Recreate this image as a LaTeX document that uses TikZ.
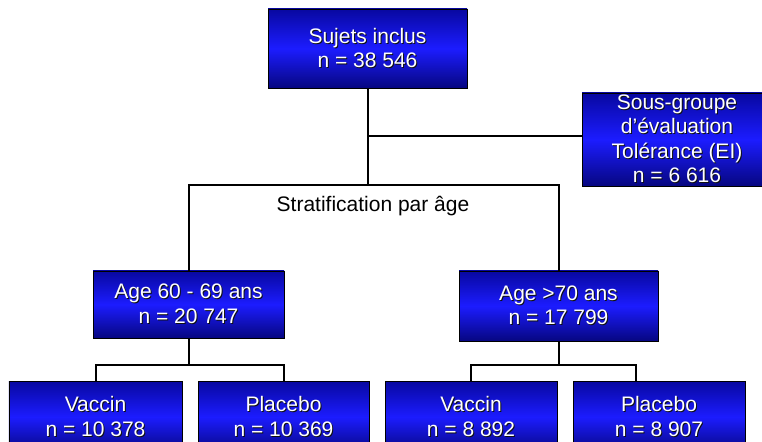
\documentclass[tikz,border=0pt]{standalone}
\usepackage{fontspec}
\setmainfont{Liberation Sans}
\usepackage{tikz}
\definecolor{bleufonce}{HTML}{0808A0}
\definecolor{bleuvif}{HTML}{1C1CFF}
\definecolor{ombre}{HTML}{101010}
\newcommand{\ombretxt}[1]{\rlap{\kern1bp\raisebox{-1bp}{\textcolor{ombre}{#1}}}#1}

\begin{document}
\begin{tikzpicture}[x=1bp,y=-1bp,
  every node/.style={font=\fontsize{21bp}{24.5bp}\selectfont},
  bloc/.style={draw=black,line width=0.8bp,rectangle,inner sep=0pt,align=center,
    text=white,top color=bleufonce,bottom color=bleufonce!80!black,middle color=bleuvif},
  lien/.style={line width=2bp,line join=miter}]
\useasboundingbox (0,0) rectangle (762,442);
\node[bloc,minimum width=199bp,minimum height=79bp] (incl) at (367.5,48.5) {\ombretxt{Sujets inclus}\\\ombretxt{n = 38 546}};
\node[bloc,minimum width=190bp,minimum height=93bp] (sousgr) at (677,139.5) {\ombretxt{Sous-groupe}\\\ombretxt{d’évaluation}\\\ombretxt{Tolérance (EI)}\\\ombretxt{n = 6 616}};
\node[bloc,minimum width=191bp,minimum height=67bp] (age1) at (188.5,304.5) {\ombretxt{Age 60 - 69 ans}\\\ombretxt{n = 20 747}};
\node[bloc,minimum width=199bp,minimum height=70bp] (age2) at (558.5,306) {\ombretxt{Age >70 ans}\\\ombretxt{n = 17 799}};
\node[bloc,minimum width=173bp,minimum height=72bp] (vac1) at (95.5,417) {\ombretxt{Vaccin}\\\ombretxt{n = 10 378}};
\node[bloc,minimum width=171bp,minimum height=72bp] (pla1) at (283.5,417) {\ombretxt{Placebo}\\\ombretxt{n = 10 369}};
\node[bloc,minimum width=172bp,minimum height=72bp] (vac2) at (471,417) {\ombretxt{Vaccin}\\\ombretxt{n = 8 892}};
\node[bloc,minimum width=172bp,minimum height=72bp] (pla2) at (659,417) {\ombretxt{Placebo}\\\ombretxt{n = 8 907}};
\node (strattxt) at (373,206) {Stratification par âge};
% points de jonction
\coordinate (strat) at (367.5,185);
\coordinate (tol) at (367.5,136);
\coordinate (s1) at (188.5,365);
\coordinate (s2) at (558.5,365);
\coordinate (p2) at (636,381);
\draw[lien] (incl) -- (strat);
\draw[lien] (tol) -- (tol -| sousgr.west);
\draw[lien] (age1.north) |- (strat) -| (age2.north);
\draw[lien] (age1) -- (s1);
\draw[lien] (vac1.north) |- (s1) -| (pla1.north);
\draw[lien] (age2) -- (s2);
\draw[lien] (vac2.north) |- (s2) -| (p2);
\end{tikzpicture}
\end{document}
